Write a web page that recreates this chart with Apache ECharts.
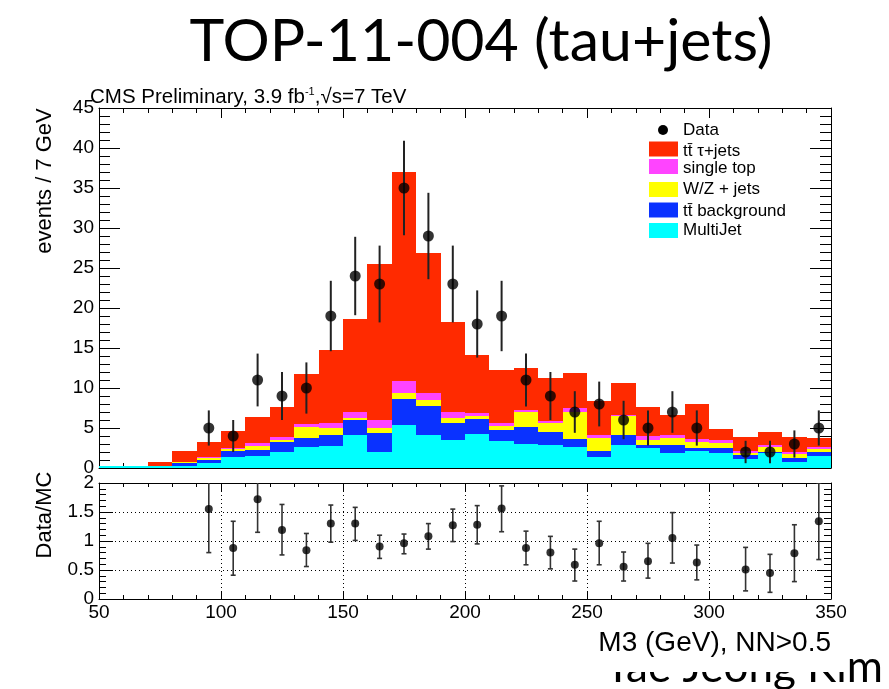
<!DOCTYPE html>
<html>
<head>
<meta charset="utf-8">
<title>TOP-11-004 (tau+jets)</title>
<script src="https://cdn.jsdelivr.net/npm/echarts@6.0.0/dist/echarts.min.js"></script>
<style>
  html, body { margin: 0; padding: 0; background: #ffffff; }
  #chart { width: 889px; height: 689px; }
</style>
</head>
<body>
<div id="chart"></div>
<script>
// M3 distribution, 10 GeV bins from 50 to 350 GeV
const binLow = [50, 60, 70, 80, 90, 100, 110, 120, 130, 140,
                150, 160, 170, 180, 190, 200, 210, 220, 230, 240,
                250, 260, 270, 280, 290, 300, 310, 320, 330, 340];
const binWidth = 10;

// Stacked expectations, bottom to top
const multiJet     = [0.2, 0.2, 0.2, 0.3, 0.6, 1.4, 1.55, 2.05, 2.6, 2.8,
                      4.1, 2.0, 5.4, 4.1, 3.5, 4.25, 3.4, 3.0, 2.85, 2.6,
                      1.4, 2.85, 2.45, 1.9, 2.1, 1.9, 1.15, 1.85, 0.7, 1.5];
const ttBackground = [0, 0, 0.1, 0.3, 0.4, 0.7, 0.65, 1.25, 1.2, 1.35,
                      1.85, 2.35, 3.25, 3.65, 2.15, 1.85, 1.35, 2.1, 1.65, 1.0,
                      0.7, 1.3, 0.4, 0.95, 0.35, 0.55, 0.45, 0.2, 0.55, 0.5];
const wzJets       = [0, 0, 0, 0.15, 0.25, 0.25, 0.6, 0.2, 1.3, 0.9,
                      0.25, 0.65, 0.75, 0.75, 0.55, 0.4, 0.5, 1.85, 1.1, 3.45,
                      1.65, 2.4, 0.6, 0.9, 0.8, 0.7, 0.3, 0.55, 0.5, 0.35];
const singleTop    = [0, 0, 0, 0, 0.1, 0.1, 0.3, 0.35, 0.4, 0.55,
                      0.75, 1.0, 1.5, 0.85, 0.85, 0.4, 0.4, 0.25, 0.3, 0.5,
                      0.35, 0.1, 0.6, 0.35, 0.35, 0.35, 0.2, 0.25, 0.25, 0.25];
const ttTauJets    = [0, 0.1, 0.4, 1.35, 1.85, 2.15, 3.3, 3.75, 6.3, 9.15,
                      11.65, 19.5, 26.1, 17.55, 11.25, 7.2, 6.6, 5.3, 5.35, 4.35,
                      4.3, 4.0, 3.6, 2.5, 4.4, 1.35, 1.8, 1.7, 1.85, 1.2];

// Observed events (bin centres) and their errors
const dataX   = [95, 105, 115, 125, 135, 145, 155, 165, 175, 185, 195, 205, 215,
                 225, 235, 245, 255, 265, 275, 285, 295, 315, 325, 335, 345];
const dataY   = [5, 4, 11, 9, 10, 19, 24, 23, 35, 29, 23, 18, 19,
                 11, 9, 7, 8, 6, 5, 7, 5, 2, 2, 3, 5];
const dataErr = [2.2, 2.0, 3.3, 3.0, 3.2, 4.4, 4.9, 4.8, 5.9, 5.4, 4.8, 4.2, 4.4,
                 3.3, 3.0, 2.6, 2.8, 2.4, 2.2, 2.6, 2.2, 1.4, 1.4, 1.7, 2.2];

// Data / MC ratio with error band limits
const ratioY    = [1.55, 0.88, 1.72, 1.19, 0.84, 1.30, 1.30, 0.905, 0.96, 1.08, 1.27, 1.28, 1.56,
                   0.88, 0.80, 0.59, 0.96, 0.555, 0.65, 1.05, 0.63, 0.51, 0.45, 0.79, 1.34];
const ratioLow  = [0.80, 0.41, 1.15, 0.76, 0.56, 0.98, 1.01, 0.70, 0.78, 0.86, 0.99, 0.95, 1.16,
                   0.59, 0.52, 0.31, 0.59, 0.31, 0.36, 0.62, 0.33, 0.14, 0.115, 0.30, 0.68];
const ratioHigh = [2.30, 1.34, 2.29, 1.63, 1.13, 1.62, 1.58, 1.10, 1.12, 1.30, 1.55, 1.61, 1.95,
                   1.17, 1.08, 0.86, 1.34, 0.81, 0.96, 1.49, 0.93, 0.89, 0.77, 1.28, 2.00];

// Legend entries
const legendNames  = ['tt\u0304 \u03c4+jets', 'single top', 'W/Z + jets', 'tt\u0304 background', 'MultiJet'];

const COLORS = {
  tau: '#ff2a00', single: '#ff44ff', wz: '#ffff00', ttbkg: '#0a32ff', multi: '#00ffff'
};
const FONT = '"Liberation Sans", Arial, Helvetica, sans-serif';
const SLIDE_FONT = 'Lato, "Open Sans", sans-serif';

// cumulative bases for the stack
function addArrays(a, b) { return a.map((v, i) => v + b[i]); }
const base0 = binLow.map(() => 0);
const base1 = addArrays(base0, multiJet);
const base2 = addArrays(base1, ttBackground);
const base3 = addArrays(base2, wzJets);
const base4 = addArrays(base3, singleTop);

function histSeries(name, values, base, color, z) {
  return {
    type: 'custom', name: name, xAxisIndex: 0, yAxisIndex: 0, z: z, silent: true, clip: true,
    data: binLow.map((x, i) => [x, x + binWidth, base[i], base[i] + values[i]]),
    encode: { x: [0, 1], y: [2, 3] },
    renderItem: function (params, api) {
      if (api.value(3) - api.value(2) <= 0) return null;
      const p0 = api.coord([api.value(0), api.value(2)]);
      const p1 = api.coord([api.value(1), api.value(3)]);
      const x0 = Math.round(p0[0]), x1 = Math.round(p1[0]);
      const y0 = Math.round(p0[1]), y1 = Math.round(p1[1]);
      return { type: 'rect', shape: { x: x0, y: y1, width: x1 - x0, height: y0 - y1 },
               style: { fill: color } };
    }
  };
}

const chart = echarts.init(document.getElementById('chart'), null, { renderer: 'canvas' });

const axisLineStyle = { color: '#000', width: 1 };
function xAx(grid, pos, labels, tickLen, minorLen, split) {
  return {
    type: 'value', gridIndex: grid, position: pos, min: 50, max: 350, interval: 50,
    axisLine: { show: true, onZero: false, lineStyle: axisLineStyle },
    axisTick: { show: true, inside: true, length: tickLen, lineStyle: axisLineStyle },
    minorTick: { show: true, splitNumber: 5, length: minorLen, lineStyle: axisLineStyle },
    axisLabel: { show: labels, color: '#000', fontSize: 19, fontFamily: FONT, margin: 4,
                 showMinLabel: true, showMaxLabel: true },
    splitLine: { show: split, lineStyle: { color: '#000', type: [1, 3], width: 1 } }
  };
}
function yAx(grid, pos, max, interval, labels, tickLen, minorLen, split) {
  return {
    type: 'value', gridIndex: grid, position: pos, min: 0, max: max, interval: interval,
    axisLine: { show: true, onZero: false, lineStyle: axisLineStyle },
    axisTick: { show: true, inside: true, length: tickLen, lineStyle: axisLineStyle },
    minorTick: { show: true, splitNumber: 5, length: minorLen, lineStyle: axisLineStyle },
    axisLabel: { show: labels, color: '#000', fontSize: 19, fontFamily: FONT, margin: 5,
                 showMinLabel: true, showMaxLabel: true },
    splitLine: { show: split, lineStyle: { color: '#000', type: [1, 3], width: 1 } }
  };
}

// legend drawn with graphic elements
const legendGraphics = [];
legendGraphics.push({ type: 'circle', shape: { cx: 663, cy: 130, r: 5 }, style: { fill: '#000' }, z: 100 });
legendGraphics.push({ type: 'text', x: 683, y: 130, z: 100,
  style: { text: 'Data', font: '17px ' + FONT, fill: '#000', verticalAlign: 'middle' } });
const legendColors = [COLORS.tau, COLORS.single, COLORS.wz, COLORS.ttbkg, COLORS.multi];
const legendBoxY = [149, 166.5, 189.5, 210, 230.5];
const legendTextY = [151, 168, 189, 211, 230];
legendNames.forEach((n, i) => {
  legendGraphics.push({ type: 'rect', shape: { x: 649, y: legendBoxY[i] - 7.5, width: 29, height: 15 },
    style: { fill: legendColors[i] }, z: 100 });
  legendGraphics.push({ type: 'text', x: 683, y: legendTextY[i], z: 100,
    style: { text: n, font: '17px ' + FONT, fill: '#000', verticalAlign: 'middle' } });
});

const option = {
  backgroundColor: '#ffffff',
  animation: false,
  grid: [
    { left: 99, top: 108, width: 732, height: 360, containLabel: false },
    { left: 99, top: 483, width: 732, height: 116, containLabel: false }
  ],
  xAxis: [
    xAx(0, 'bottom', false, 10, 5, false),
    xAx(0, 'top', false, 10, 5, false),
    xAx(1, 'bottom', true, 8, 4, true),
    xAx(1, 'top', false, 8, 4, false)
  ],
  yAxis: [
    yAx(0, 'left', 45, 5, true, 21, 11, false),
    yAx(0, 'right', 45, 5, false, 21, 11, false),
    yAx(1, 'left', 2, 0.5, true, 14, 7, true),
    yAx(1, 'right', 2, 0.5, false, 14, 7, false)
  ],
  series: [
    histSeries('MultiJet', multiJet, base0, COLORS.multi, 2),
    histSeries('tt background', ttBackground, base1, COLORS.ttbkg, 2),
    histSeries('W/Z + jets', wzJets, base2, COLORS.wz, 2),
    histSeries('single top', singleTop, base3, COLORS.single, 2),
    histSeries('tt tau+jets', ttTauJets, base4, COLORS.tau, 2),
    {
      type: 'custom', name: 'Data errors', xAxisIndex: 0, yAxisIndex: 0, z: 5, silent: true, clip: true,
      data: dataX.map((x, i) => [x, dataY[i] - dataErr[i], dataY[i] + dataErr[i]]),
      encode: { x: 0, y: [1, 2] },
      renderItem: function (params, api) {
        const lo = api.coord([api.value(0), api.value(1)]);
        const hi = api.coord([api.value(0), api.value(2)]);
        return { type: 'line', shape: { x1: lo[0], y1: lo[1], x2: hi[0], y2: hi[1] },
                 style: { stroke: '#222', lineWidth: 2 } };
      }
    },
    {
      type: 'scatter', name: 'Data', xAxisIndex: 0, yAxisIndex: 0, z: 6, silent: true,
      symbol: 'circle', symbolSize: 11, itemStyle: { color: '#000' },
      data: dataX.map((x, i) => [x, dataY[i]])
    },
    {
      type: 'custom', name: 'Ratio errors', xAxisIndex: 2, yAxisIndex: 2, z: 5, silent: true, clip: true,
      data: dataX.map((x, i) => [x, ratioLow[i], ratioHigh[i]]),
      encode: { x: 0, y: [1, 2] },
      renderItem: function (params, api) {
        const lo = api.coord([api.value(0), api.value(1)]);
        const hi = api.coord([api.value(0), api.value(2)]);
        const st = { stroke: '#333', lineWidth: 1.6 };
        return { type: 'group', children: [
          { type: 'line', shape: { x1: lo[0], y1: lo[1], x2: hi[0], y2: hi[1] }, style: st },
          { type: 'line', shape: { x1: lo[0] - 2.5, y1: lo[1], x2: lo[0] + 2.5, y2: lo[1] }, style: st },
          { type: 'line', shape: { x1: hi[0] - 2.5, y1: hi[1], x2: hi[0] + 2.5, y2: hi[1] }, style: st }
        ] };
      }
    },
    {
      type: 'scatter', name: 'Data/MC', xAxisIndex: 2, yAxisIndex: 2, z: 6, silent: true,
      symbol: 'circle', symbolSize: 8, itemStyle: { color: '#000' },
      data: dataX.map((x, i) => [x, ratioY[i]])
    }
  ],
  graphic: [
    { type: 'text', x: 481, y: 42, z: 50,
      style: { text: 'TOP-11-004 (tau+jets)', font: '59px ' + SLIDE_FONT, fill: '#000',
               align: 'center', verticalAlign: 'middle' } },
    { type: 'text', x: 883, y: 668, z: 40,
      style: { text: 'Tae Jeong Kim', font: '44px ' + SLIDE_FONT, fill: '#000',
               align: 'right', verticalAlign: 'middle' } },
    { type: 'rect', shape: { x: 540, y: 622, width: 307, height: 50 }, z: 45,
      style: { fill: '#ffffff' } },
    { type: 'text', x: 831, y: 643, z: 50,
      style: { text: 'M3 (GeV), NN>0.5', font: '28px ' + FONT, fill: '#000',
               align: 'right', verticalAlign: 'middle' } },
    { type: 'text', x: 90, y: 97, z: 50,
      style: {
        text: '{a|CMS Preliminary, 3.9 fb}{s|-1}{a|,\u221as=7 TeV}',
        verticalAlign: 'middle',
        rich: {
          a: { fontSize: 20.5, fontFamily: FONT, fill: '#000', color: '#000', lineHeight: 22 },
          s: { fontSize: 11, fontFamily: FONT, fill: '#000', color: '#000', verticalAlign: 'top', lineHeight: 22 }
        }
      } },
    { type: 'text', x: 45, y: 181, rotation: Math.PI / 2, z: 50,
      style: { text: 'events / 7 GeV', font: '22px ' + FONT, fill: '#000',
               align: 'center', verticalAlign: 'middle' } },
    { type: 'text', x: 45, y: 515, rotation: Math.PI / 2, z: 50,
      style: { text: 'Data/MC', font: '22px ' + FONT, fill: '#000',
               align: 'center', verticalAlign: 'middle' } }
  ].concat(legendGraphics)
};

chart.setOption(option);
</script>
</body>
</html>
